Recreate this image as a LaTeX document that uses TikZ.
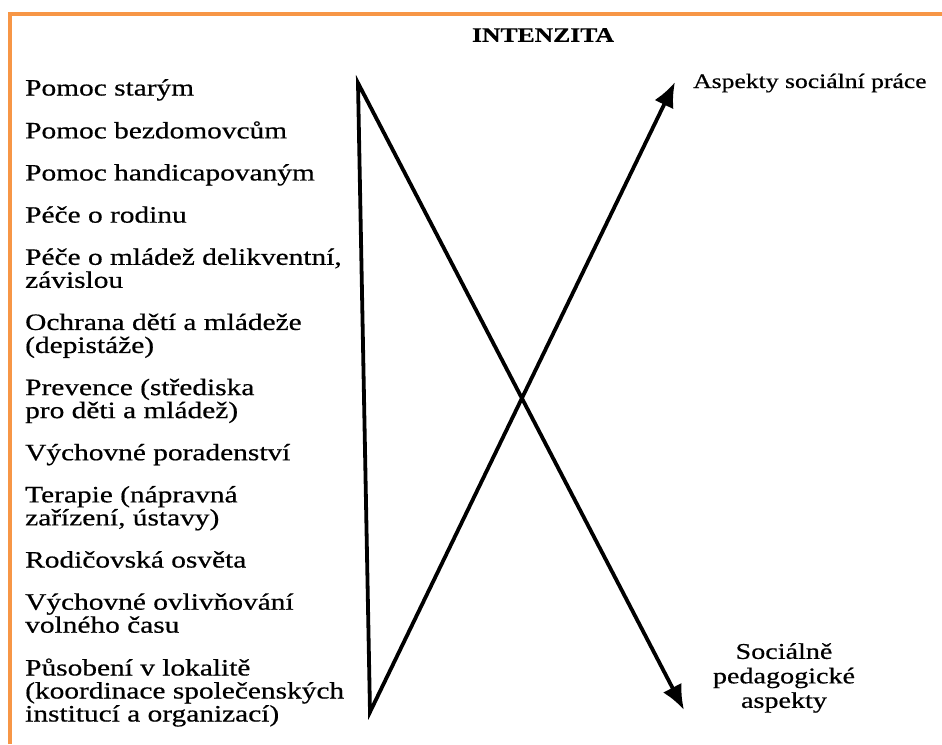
\documentclass[tikz,border=0pt]{standalone}
\usepackage{fontspec}
\setmainfont{Liberation Serif}[FakeStretch=1.25, FakeBold=0.6]
\usetikzlibrary{positioning, arrows.meta}
\definecolor{frameorange}{HTML}{F79646}
\tikzset{>={Latex[length=25pt,width=21pt]}, node distance=18.5pt}
\tikzset{
  area/.style={anchor=north west, inner sep=0pt, align=left,
    font=\fontsize{23.5}{23}\selectfont, execute at begin node=\strut},
  aspect/.style={inner sep=0pt, font=\fontsize{22.5}{24.5}\selectfont},
  heading/.style={inner sep=0pt, font=\fontsize{20.5}{22}\selectfont\bfseries},
  arrowline/.style={line width=3.8pt, line join=miter}
}

\begin{document}
\begin{tikzpicture}[x=1pt, y=-1pt]
\useasboundingbox (0,0) rectangle (942,744);
% frame of the page
\draw[frameorange, line width=4pt] (10,744) -- (10,14) -- (942,14);

\node[heading] (intenzita) at (543,35) {INTENZITA};

% fields of work
\node[area] (stari) at (25,79) {Pomoc starým};
\node[area, below=of stari.south west, anchor=north west] (bezdomovci) {Pomoc bezdomovcům};
\node[area, below=of bezdomovci.south west, anchor=north west] (handicap) {Pomoc handicapovaným};
\node[area, below=of handicap.south west, anchor=north west] (rodina) {Péče o rodinu};
\node[area, below=of rodina.south west, anchor=north west] (mladez) {Péče o mládež delikventní,\\závislou};
\node[area, below=of mladez.south west, anchor=north west] (ochrana) {Ochrana dětí a mládeže\\(depistáže)};
\node[area, below=of ochrana.south west, anchor=north west] (prevence) {Prevence (střediska\\pro děti a mládež)};
\node[area, below=of prevence.south west, anchor=north west] (poradenstvi) {Výchovné poradenství};
\node[area, below=of poradenstvi.south west, anchor=north west] (terapie) {Terapie (nápravná\\zařízení, ústavy)};
\node[area, below=of terapie.south west, anchor=north west] (osveta) {Rodičovská osvěta};
\node[area, below=of osveta.south west, anchor=north west] (volnycas) {Výchovné ovlivňování\\volného času};
\node[area, below=of volnycas.south west, anchor=north west] (lokalita) {Působení v lokalitě\\(koordinace společenských\\institucí a organizací)};

% the two aspects
\node[aspect, anchor=base west, font=\fontsize{20.5}{24.5}\selectfont] (socprace) at (693,88) {Aspekty sociální práce};
\node[aspect, anchor=north, align=center, execute at begin node=\strut] (socped) at (784,643) {Sociálně\\pedagogické\\aspekty};

\coordinate (top) at (358,83);
\coordinate (bot) at (370,712);
\coordinate (up) at (675,82);
\coordinate (down) at (684,710);

\draw[arrowline, <->] (up) -- (bot) -- (top) -- (down);
\end{tikzpicture}
\end{document}
